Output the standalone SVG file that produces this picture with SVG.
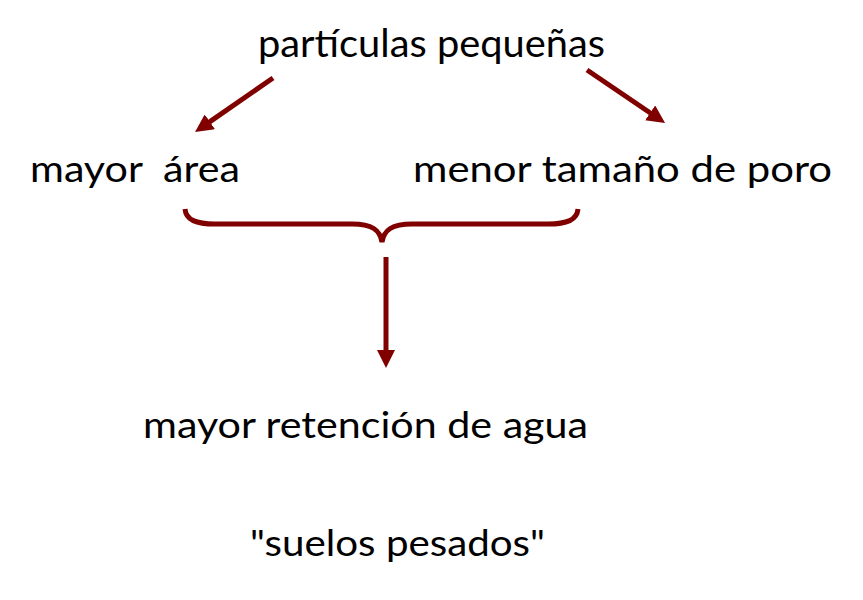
<svg xmlns="http://www.w3.org/2000/svg" width="863" height="600" viewBox="0 0 863 600">
<style>
  .t { font-family: Lato, "Open Sans", "Liberation Sans", sans-serif; fill: #000; }
  .c { stroke: #800000; stroke-width: 5; fill: none; }
</style>
<defs>
  <marker id="ah" markerUnits="userSpaceOnUse" markerWidth="18" markerHeight="18" refX="2" refY="9" orient="auto">
    <path d="M0,0 L18,9 L0,18 z" fill="#800000"/>
  </marker>
</defs>
<rect width="863" height="600" fill="#fff"/>
<g id="n-particulas"><text class="t" x="258" y="57" font-size="38" textLength="347" lengthAdjust="spacingAndGlyphs">partículas pequeñas</text></g>
<g id="n-area"><text class="t" x="30" y="182" font-size="36" textLength="210" lengthAdjust="spacingAndGlyphs" xml:space="preserve">mayor  área</text></g>
<g id="n-poro"><text class="t" x="413" y="182" font-size="36" textLength="419" lengthAdjust="spacingAndGlyphs">menor tamaño de poro</text></g>
<g id="n-retencion"><text class="t" x="143" y="438" font-size="36" textLength="445" lengthAdjust="spacingAndGlyphs">mayor retención de agua</text></g>
<g id="n-suelos"><text class="t" x="250" y="556" font-size="36" textLength="295" lengthAdjust="spacingAndGlyphs">"suelos pesados"</text></g>
<g id="connectors">
  <line class="c" x1="273" y1="78" x2="208.2" y2="122.9" marker-end="url(#ah)"/>
  <line class="c" x1="587" y1="70" x2="651.8" y2="114" marker-end="url(#ah)"/>
  <path class="c" stroke-width="4.5" d="M185,209 C186,220 196,224 215,224 L352,224 C372,224 380,230 382,242 C384,230 392,224 412,224 L548,224 C567,224 577,220 578,209"/>
  <line class="c" stroke-width="5.5" x1="386" y1="257" x2="386" y2="352" marker-end="url(#ah)"/>
</g>
</svg>
